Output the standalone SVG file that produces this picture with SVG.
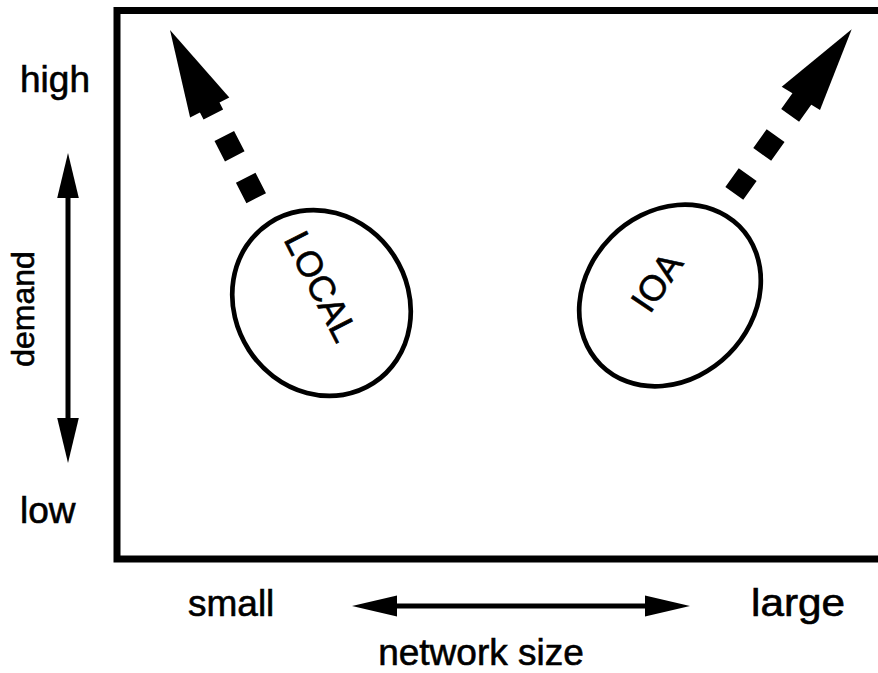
<svg xmlns="http://www.w3.org/2000/svg" width="878" height="673" viewBox="0 0 878 673">
  <style>
    .lbl { font-family: "Liberation Sans", Arial, Helvetica, sans-serif; fill: #000; stroke: #000; stroke-width: 0.6; }
    .frame { fill: none; stroke: #000; stroke-width: 7; }
    .blob { fill: none; stroke: #000; stroke-width: 4.7; }
    .shaft { stroke: #000; stroke-width: 5; fill: none; }
    .dash { stroke: #000; stroke-width: 22; fill: none; stroke-linecap: butt; }
    .head { fill: #000; stroke: none; }
  </style>
  <rect width="878" height="673" fill="#fff"/>

  <!-- plot frame (right side runs past the edge) -->
  <rect class="frame" x="117" y="10.5" width="790" height="548.5"/>

  <!-- axis labels -->
  <text class="lbl" x="20" y="92" font-size="37">high</text>
  <text class="lbl" x="20" y="523" font-size="37">low</text>
  <text class="lbl" font-size="32" text-anchor="middle" transform="translate(34,309) rotate(-90)">demand</text>
  <text class="lbl" x="188" y="616" font-size="37">small</text>
  <text class="lbl" x="751" y="616" font-size="38" textLength="94" lengthAdjust="spacingAndGlyphs">large</text>
  <text class="lbl" x="481" y="665" font-size="37" text-anchor="middle">network size</text>

  <!-- nodes -->
  <g id="local">
    <ellipse class="blob" cx="321.5" cy="303" rx="86.5" ry="95.5" transform="rotate(-33 321.5 303)"/>
    <text class="lbl" font-size="36" text-anchor="middle" transform="translate(310,292) rotate(63)">LOCAL</text>
  </g>
  <g id="ioa">
    <ellipse class="blob" cx="670" cy="295.5" rx="83" ry="98" transform="rotate(45 670 295.5)"/>
    <text class="lbl" font-size="36" text-anchor="middle" transform="translate(667,289) rotate(-56)">IOA</text>
  </g>

  <!-- connectors -->
  <g id="connectors">
    <!-- demand axis -->
    <line class="shaft" x1="68" y1="190" x2="68" y2="425"/>
    <polygon class="head" points="68,153 57.2,198 78.8,198"/>
    <polygon class="head" points="68,463 57.2,418 78.8,418"/>
    <!-- network size axis -->
    <line class="shaft" x1="390" y1="606" x2="652" y2="606"/>
    <polygon class="head" points="352,606 397,595.5 397,616.5"/>
    <polygon class="head" points="690,606 645,595.5 645,616.5"/>
    <!-- LOCAL trend -->
    <line class="dash" x1="256.2" y1="198.2" x2="208.3" y2="104.7" stroke-dasharray="23 24"/>
    <polygon class="head" points="170,30 229.3,97.4 190.1,117.4"/>
    <!-- IOA trend -->
    <line class="dash" x1="734.3" y1="193.4" x2="804.1" y2="95.8" stroke-dasharray="23 25"/>
    <polygon class="head" points="851.7,29.3 781.7,86.7 820,110"/>
  </g>
</svg>
